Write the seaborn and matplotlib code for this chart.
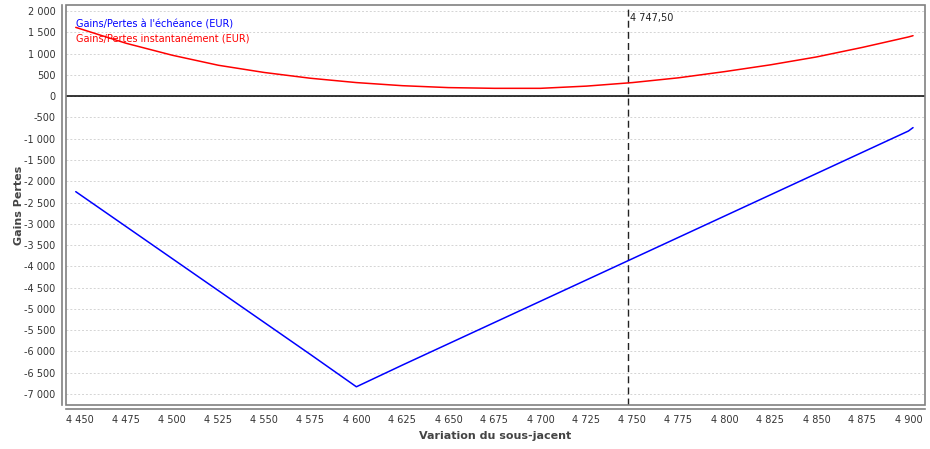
import numpy as np
import pandas as pd
import matplotlib
matplotlib.use("Agg")
import matplotlib.pyplot as plt
import seaborn as sns
from matplotlib.patches import Rectangle
from matplotlib.ticker import FuncFormatter, MultipleLocator

# --- Data ---
underlying = [4447.5, 4475, 4500, 4525, 4550, 4575, 4600, 4625, 4650, 4675,
              4700, 4725, 4750, 4775, 4800, 4825, 4850, 4875, 4900, 4902.5]
pnl_expiry = [-2245, -3070, -3820, -4570, -5320, -6070, -6830, -6320, -5820, -5320,
              -4820, -4320, -3820, -3320, -2820, -2320, -1820, -1320, -820, -740]
pnl_instant = [1615, 1240, 960, 725, 555, 420, 318, 245, 200, 183,
               183, 235, 318, 430, 575, 735, 920, 1145, 1390, 1420]
spot = 4747.50

label_expiry = "Gains/Pertes à l'échéance (EUR)"
label_instant = "Gains/Pertes instantanément (EUR)"

df = pd.concat([
    pd.DataFrame({"x": underlying, "y": pnl_expiry, "serie": label_expiry}),
    pd.DataFrame({"x": underlying, "y": pnl_instant, "serie": label_instant}),
])

sns.set_style("white")
plt.rcParams["font.family"] = ["DejaVu Sans"]

fig = plt.figure(figsize=(9.3, 4.49), dpi=100)
ax = fig.add_axes([66 / 930, 1 - 405 / 449, 859 / 930, 400 / 449])

sns.lineplot(data=df, x="x", y="y", hue="serie", ax=ax, linewidth=1.1,
             palette={label_expiry: "#0000ff", label_instant: "#ff0000"})

ax.set_xlim(4442.2, 4909)
ax.set_ylim(-7258, 2141)

# grid, zero line, spot marker
ax.yaxis.grid(True, color="#d4d4d4", linestyle=(0, (2, 2)), linewidth=0.7)
ax.xaxis.grid(False)
ax.set_axisbelow(True)
ax.axhline(0, color="black", linewidth=1.1, zorder=1)
ax.axvline(spot, color="#222222", linewidth=1, linestyle=(0, (5, 3)), zorder=1)
spot_txt = f"{spot:,.2f}".replace(",", " ").replace(".", ",")
ax.text(spot + 1.3, 1830, spot_txt, fontsize=7, color="#222222",
        ha="left", va="center")

# axes and ticks
fmt = FuncFormatter(lambda v, _: f"{v:,.0f}".replace(",", " "))
ax.xaxis.set_major_locator(MultipleLocator(25))
ax.yaxis.set_major_locator(MultipleLocator(500))
ax.xaxis.set_major_formatter(fmt)
ax.yaxis.set_major_formatter(fmt)
ax.tick_params(axis="both", labelsize=7, colors="#333333", length=2.5,
               width=0.8, direction="out", pad=2)
ax.tick_params(axis="both", color="#808080")

for side in ["top", "right"]:
    ax.spines[side].set_visible(False)
for side in ["left", "bottom"]:
    ax.spines[side].set_position(("outward", 3))
    ax.spines[side].set_color("#808080")
    ax.spines[side].set_linewidth(1.2)
ax.add_patch(Rectangle((0, 0), 1, 1, transform=ax.transAxes, fill=False,
                       edgecolor="#808080", linewidth=1.2, clip_on=False, zorder=5))

ax.set_xlabel("Variation du sous-jacent", fontsize=8, fontweight="bold",
              color="#444444", labelpad=4)
ax.set_ylabel("Gains Pertes", fontsize=8, fontweight="bold",
              color="#444444", labelpad=0)

# text-only legend in the top left corner
ax.legend(handlelength=0, handletextpad=0, frameon=False, labelcolor="linecolor",
          loc="upper left", bbox_to_anchor=(0.0, 0.987), fontsize=7,
          labelspacing=0.45, borderaxespad=0.6)

fig.savefig("out.png", dpi=100)
plt.close(fig)
